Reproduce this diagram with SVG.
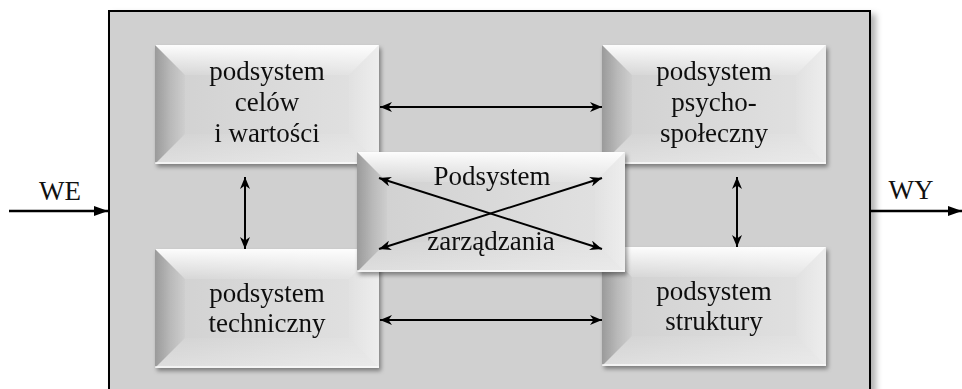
<svg xmlns="http://www.w3.org/2000/svg" width="962" height="389" viewBox="0 0 962 389">
<style>
.t{font-family:'Liberation Serif','Times New Roman',serif;font-size:27px;text-anchor:middle;fill:#111}
.face{fill:url(#gFace)}
.bt{fill:url(#gTop)}
.bl{fill:url(#gLeft)}
.br{fill:url(#gRight)}
.bb{fill:url(#gBot)}
.edge{fill:none;stroke:#ffffff;stroke-opacity:0.85;stroke-width:1.5}
.conn{stroke:#000;stroke-width:2;fill:none;marker-start:url(#ah);marker-end:url(#ah)}
.io{stroke:#000;stroke-width:2.5;fill:none;marker-end:url(#tri)}
</style>
<defs>
<filter id="sh" x="-10%" y="-10%" width="125%" height="130%">
<feDropShadow dx="2" dy="3" stdDeviation="2" flood-color="#000" flood-opacity="0.4"/>
</filter>
<filter id="shO" x="-5%" y="-5%" width="112%" height="115%">
<feDropShadow dx="5" dy="4" stdDeviation="3" flood-color="#000" flood-opacity="0.3"/>
</filter>
<linearGradient id="gFace" x1="0" y1="0" x2="1" y2="0">
<stop offset="0" stop-color="#d0d0d0"/>
<stop offset="0.5" stop-color="#d9d9d9"/>
<stop offset="1" stop-color="#e2e2e2"/>
</linearGradient>
<linearGradient id="gTop" x1="0" y1="0" x2="0" y2="1">
<stop offset="0" stop-color="#fff" stop-opacity="0.95"/>
<stop offset="0.4" stop-color="#fff" stop-opacity="0.6"/>
<stop offset="1" stop-color="#fff" stop-opacity="0.1"/>
</linearGradient>
<linearGradient id="gLeft" x1="0" y1="0" x2="1" y2="0">
<stop offset="0" stop-color="#000" stop-opacity="0.26"/>
<stop offset="0.5" stop-color="#000" stop-opacity="0.12"/>
<stop offset="1" stop-color="#000" stop-opacity="0.02"/>
</linearGradient>
<linearGradient id="gRight" x1="0" y1="0" x2="1" y2="0">
<stop offset="0" stop-color="#fff" stop-opacity="0.05"/>
<stop offset="1" stop-color="#fff" stop-opacity="0.4"/>
</linearGradient>
<linearGradient id="gBot" x1="0" y1="0" x2="0" y2="1">
<stop offset="0" stop-color="#fff" stop-opacity="0.05"/>
<stop offset="1" stop-color="#fff" stop-opacity="0.3"/>
</linearGradient>
<marker id="ah" viewBox="0 0 12 10" markerWidth="12" markerHeight="10" refX="12" refY="5" orient="auto-start-reverse" markerUnits="userSpaceOnUse">
<path d="M0,0 L12,5 L0,10 L3.5,5 Z" fill="#000"/>
</marker>
<marker id="tri" viewBox="0 0 14 10" markerWidth="14" markerHeight="10" refX="14" refY="5" orient="auto" markerUnits="userSpaceOnUse">
<path d="M0,0 L14,5 L0,10 Z" fill="#000"/>
</marker>
</defs>
<rect width="962" height="389" fill="#fff"/>
<g id="system">
<rect x="109" y="11" width="761" height="392" fill="#d0d0d0" stroke="#000" stroke-width="2" filter="url(#shO)"/>
</g>
<g id="we"><text class="t" x="60" y="200">WE</text></g>
<g id="wy"><text class="t" x="911" y="199">WY</text></g>
<g id="cele" filter="url(#sh)">
<rect class="face" x="155" y="45" width="224" height="119"/>
<polygon class="bt" points="155,45 379,45 349,75 185,75"/>
<polygon class="bl" points="155,45 185,75 185,134 155,164"/>
<polygon class="br" points="379,45 379,164 349,134 349,75"/>
<polygon class="bb" points="155,164 185,134 349,134 379,164"/>
<line class="edge" x1="155" y1="163" x2="379" y2="163"/>
<text class="t" x="267" y="80">podsystem</text>
<text class="t" x="267" y="111">celów</text>
<text class="t" x="267" y="142">i wartości</text>
</g>
<g id="psycho" filter="url(#sh)">
<rect class="face" x="602" y="45" width="224" height="119"/>
<polygon class="bt" points="602,45 826,45 796,75 632,75"/>
<polygon class="bl" points="602,45 632,75 632,134 602,164"/>
<polygon class="br" points="826,45 826,164 796,134 796,75"/>
<polygon class="bb" points="602,164 632,134 796,134 826,164"/>
<line class="edge" x1="602" y1="163" x2="826" y2="163"/>
<text class="t" x="714" y="80">podsystem</text>
<text class="t" x="714" y="111">psycho-</text>
<text class="t" x="714" y="142">społeczny</text>
</g>
<g id="techniczny" filter="url(#sh)">
<rect class="face" x="155" y="249" width="224" height="119"/>
<polygon class="bt" points="155,249 379,249 349,279 185,279"/>
<polygon class="bl" points="155,249 185,279 185,338 155,368"/>
<polygon class="br" points="379,249 379,368 349,338 349,279"/>
<polygon class="bb" points="155,368 185,338 349,338 379,368"/>
<line class="edge" x1="155" y1="367" x2="379" y2="367"/>
<text class="t" x="267" y="302">podsystem</text>
<text class="t" x="267" y="332">techniczny</text>
</g>
<g id="struktura" filter="url(#sh)">
<rect class="face" x="602" y="247" width="224" height="119"/>
<polygon class="bt" points="602,247 826,247 796,277 632,277"/>
<polygon class="bl" points="602,247 632,277 632,336 602,366"/>
<polygon class="br" points="826,247 826,366 796,336 796,277"/>
<polygon class="bb" points="602,366 632,336 796,336 826,366"/>
<line class="edge" x1="602" y1="365" x2="826" y2="365"/>
<text class="t" x="714" y="300">podsystem</text>
<text class="t" x="714" y="330">struktury</text>
</g>
<g id="zarzadzanie" filter="url(#sh)">
<rect class="face" x="357" y="152" width="268" height="120"/>
<polygon class="bt" points="357,152 625,152 595,182 387,182"/>
<polygon class="bl" points="357,152 387,182 387,242 357,272"/>
<polygon class="br" points="625,152 625,272 595,242 595,182"/>
<polygon class="bb" points="357,272 387,242 595,242 625,272"/>
<line class="edge" x1="357" y1="271" x2="625" y2="271"/>
<text class="t" x="492" y="185">Podsystem</text>
<text class="t" x="491" y="250">zarządzania</text>
</g>
<g id="connectors">
<line class="io" x1="9" y1="211" x2="108" y2="211"/>
<line class="io" x1="871" y1="211" x2="962" y2="211"/>
<line class="conn" x1="380" y1="107" x2="602" y2="107"/>
<line class="conn" x1="380" y1="320" x2="602" y2="320"/>
<line class="conn" x1="245" y1="177" x2="245" y2="249"/>
<line class="conn" x1="737" y1="177" x2="737" y2="247"/>
<line class="conn" x1="379" y1="178" x2="602" y2="249"/>
<line class="conn" x1="379" y1="249" x2="602" y2="178"/>
</g>
</svg>
